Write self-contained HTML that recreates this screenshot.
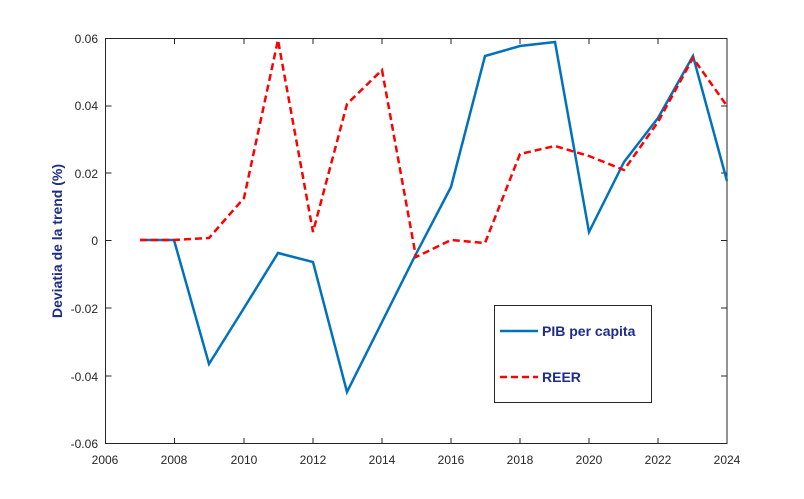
<!DOCTYPE html>
<html><head><style>body{margin:0;background:#fff}svg{display:block}</style></head><body>
<svg width="804" height="499" xmlns="http://www.w3.org/2000/svg" font-family="Liberation Sans, sans-serif">
<rect width="804" height="499" fill="#fff"/>
<rect x="105.5" y="38.5" width="621.5" height="405" fill="#fff" stroke="#262626" stroke-width="1"/>
<g stroke="#262626" stroke-width="1">
<path d="M105.5 438v6M174.5 438v6M244 438v6M313 438v6M382 438v6M451 438v6M520 438v6M589 438v6M658 438v6M727 438v6"/>
<path d="M174.5 38v6M244 38v6M313 38v6M382 38v6M451 38v6M520 38v6M589 38v6M658 38v6"/>
<path d="M105.5 106h6M105.5 173h6M105.5 240.5h6M105.5 308h6M105.5 376h6"/>
<path d="M721 106h6M721 173h6M721 240.5h6M721 308h6M721 376h6"/>
</g>
<g font-size="12" fill="#262626" text-anchor="end">
<text x="98" y="43">0.06</text><text x="98" y="110">0.04</text><text x="98" y="178">0.02</text><text x="98" y="245">0</text><text x="98" y="313">-0.02</text><text x="98" y="381">-0.04</text><text x="98" y="448">-0.06</text>
</g>
<g font-size="12" fill="#262626" text-anchor="middle">
<text x="105" y="464">2006</text><text x="174" y="464">2008</text><text x="244" y="464">2010</text><text x="313" y="464">2012</text><text x="382" y="464">2014</text><text x="451" y="464">2016</text><text x="520" y="464">2018</text><text x="589" y="464">2020</text><text x="658" y="464">2022</text><text x="727" y="464">2024</text>
</g>
<text transform="translate(62,241) rotate(-90)" text-anchor="middle" font-size="14" font-weight="bold" fill="#1f2d8a">Deviatia de la trend (%)</text>
<polyline fill="none" stroke="#0072bd" stroke-width="2.5" points="140,240 174,240 209,364 244,308 278,253 313,262 347,392 382,322 416,254 451,187 485,56 520,46 555,42 589,232 624,162 658,118 693,56 727,181"/>
<polyline fill="none" stroke="#ff0000" stroke-width="2.5" stroke-dasharray="7,4" points="140,240 174,240 209,238 244,198 278,40 313,232 347,104 382,70 416,257 451,240 485,243 520,154 555,146 589,156 624,170 658,122 693,58 727,106"/>
<rect x="494.5" y="305.5" width="157" height="97" fill="#fff" stroke="#262626"/>
<line x1="500" y1="331" x2="538" y2="331" stroke="#0072bd" stroke-width="2.5"/>
<line x1="500" y1="377" x2="538" y2="377" stroke="#ff0000" stroke-width="2.5" stroke-dasharray="7,4"/>
<text x="542" y="336" font-size="14" font-weight="bold" fill="#1f2d8a">PIB per capita</text>
<text x="542" y="382" font-size="14" font-weight="bold" fill="#1f2d8a">REER</text>
</svg>
</body></html>
